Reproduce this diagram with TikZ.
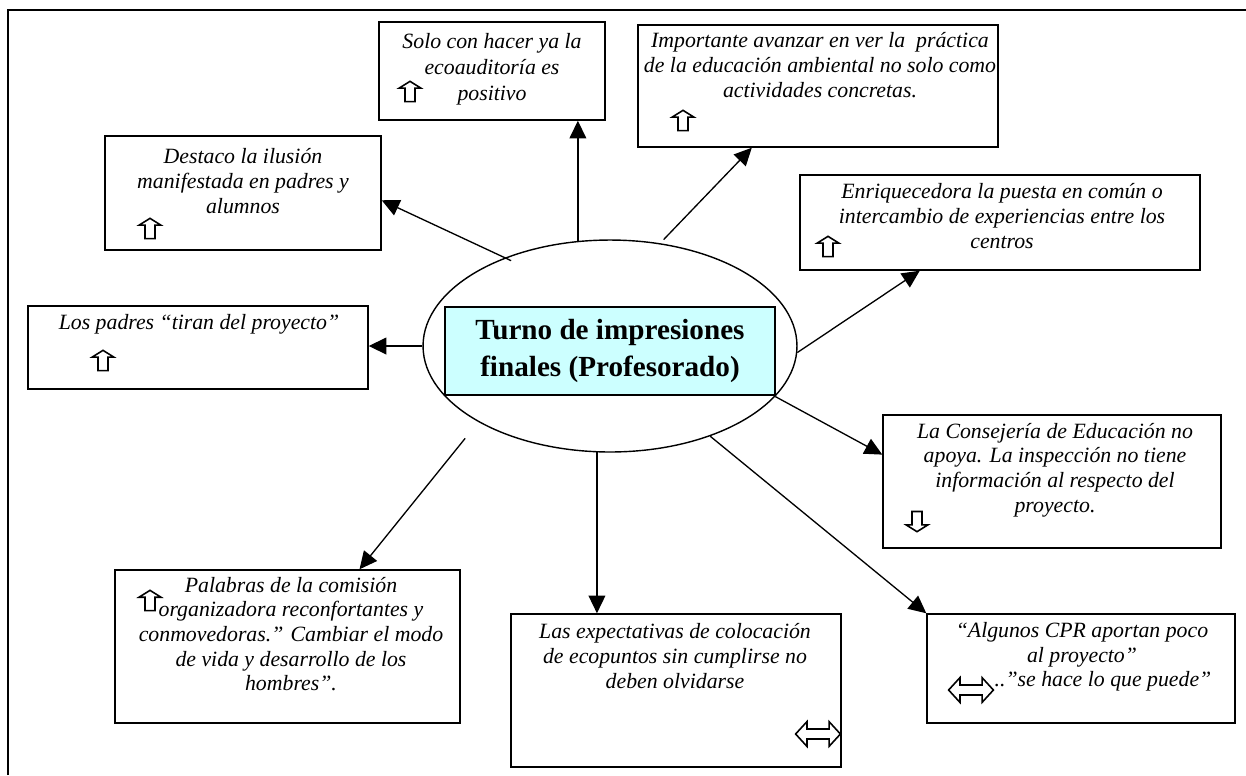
\documentclass[tikz,border=0pt]{standalone}
\usepackage{fontspec}
\setmainfont{Liberation Serif}
\usepackage{tikz}
\usetikzlibrary{arrows.meta,shapes.geometric,shapes.arrows}
\definecolor{titlecyan}{HTML}{CCFFFF}

\begin{document}
\begin{tikzpicture}[x=0.02cm, y=-0.02cm,
  box/.style={draw, line width=0.85pt, inner sep=0pt},
  txt/.style={align=center, inner sep=0pt, font={\fontsize{12.4}{14}\selectfont\itshape}},
  arr/.style={-{Triangle[length=10pt, width=9.5pt]}, line width=0.75pt},
  upicon/.style={single arrow, draw, line width=0.9pt, fill=white, shape border rotate=90, minimum height=11.5pt, minimum width=11.5pt, inner sep=2.4pt, single arrow head extend=3.4pt, single arrow tip angle=116},
  downicon/.style={upicon, shape border rotate=270},
  bothicon/.style={double arrow, draw, line width=0.9pt, fill=white, minimum height=25.5pt, minimum width=13pt, inner sep=2.4pt, double arrow head extend=4.2pt, double arrow tip angle=95}
]
\useasboundingbox (0,0) rectangle (1246,775);
\draw[line width=1.1pt] (8,775) |- (1246,10);

\node[draw, ellipse, line width=0.8pt, inner sep=0pt, minimum width=7.48cm, minimum height=4.24cm] (hub) at (610,346) {};
\node[box, fill=titlecyan, minimum width=6.6cm, minimum height=1.76cm, align=center, font={\fontsize{16.6}{21}\selectfont\bfseries}] (title) at (610,351) {Turno de impresiones\\finales (Profesorado)};

\node[box, minimum width=4.52cm, minimum height=1.96cm] (solo) at (492,71) {};
\node[box, minimum width=7.2cm, minimum height=2.44cm] (importante) at (818,86) {};
\node[box, minimum width=5.52cm, minimum height=2.28cm] (destaco) at (243,193) {};
\node[box, minimum width=8cm, minimum height=1.9cm] (enriq) at (1000,222.5) {};
\node[box, minimum width=6.8cm, minimum height=1.66cm] (padres) at (198,347.5) {};
\node[box, minimum width=6.76cm, minimum height=2.66cm] (conse) at (1052,481.5) {};
\node[box, minimum width=6.9cm, minimum height=3.06cm] (palabras) at (287.5,646.5) {};
\node[box, minimum width=6.6cm, minimum height=3.06cm] (expect) at (676,690.5) {};
\node[box, minimum width=6.16cm, minimum height=2.18cm] (algunos) at (1081,668.5) {};

\node[txt, font={\fontsize{12.4}{14.8}\selectfont\itshape}] (solotxt) at (492,69) {Solo con hacer ya la\\ecoauditoría es\\positivo};
\node[txt] (importantetxt) at (820,65) {Importante avanzar en ver la\ \ práctica\\de la educación ambiental no solo como\\actividades concretas.};
\node[txt] (destacotxt) at (243,181) {Destaco la ilusión\\manifestada en padres y\\alumnos};
\node[txt] (enriqtxt) at (1002,216) {Enriquecedora la puesta en común o\\intercambio de experiencias entre los\\centros};
\node[txt] (padrestxt) at (199,324) {Los padres “tiran del proyecto”};
\node[txt] (consetxt) at (1055,470) {La Consejería de Educación no\\apoya. La inspección no tiene\\información al respecto del\\proyecto.};
\node[txt] (palabrastxt) at (291,634) {Palabras de la comisión\\organizadora reconfortantes y\\conmovedoras.” Cambiar el modo\\de vida y desarrollo de los\\hombres”.};
\node[txt] (expecttxt) at (675,656) {Las expectativas de colocación\\de ecopuntos sin cumplirse no\\deben olvidarse};
\node[txt] (algunostxt) at (1082,657) {“Algunos CPR aportan poco\\al proyecto”\\\hspace*{0.84cm}..”se hace lo que puede”};

\node[upicon] (soloup) at (410,93) {};
\node[upicon] (importanteup) at (683,122) {};
\node[upicon] (destacoup) at (150,230) {};
\node[upicon] (enriqup) at (828,248) {};
\node[upicon] (padresup) at (103,362) {};
\node[downicon] (consedown) at (917,520) {};
\node[upicon] (palabrasup) at (150,602) {};
\node[bothicon] (expectboth) at (818,734) {};
\node[bothicon] (algunosboth) at (971,690) {};

\draw[arr] (hub.107) -- (hub.107 |- solo.south);
\draw[arr, shorten <=-0.14cm] (hub.140) -- (destaco.-3);
\draw[arr, shorten <=0.1cm] (hub.64) -- (importante.223);
\draw[arr] (hub.-2) -- (enriq.211);
\draw[arr] (hub.west) -- (hub.west -| padres.east);
\draw[arr] (hub.-17) -- (conse.171);
\draw[arr] (hub.-42) -- (algunos.north west);
\draw[arr] (hub.-97) -- (hub.-97 |- expect.north);
\draw[arr, shorten <=0.42cm] (hub.210) -- (palabras.47);
\end{tikzpicture}
\end{document}
